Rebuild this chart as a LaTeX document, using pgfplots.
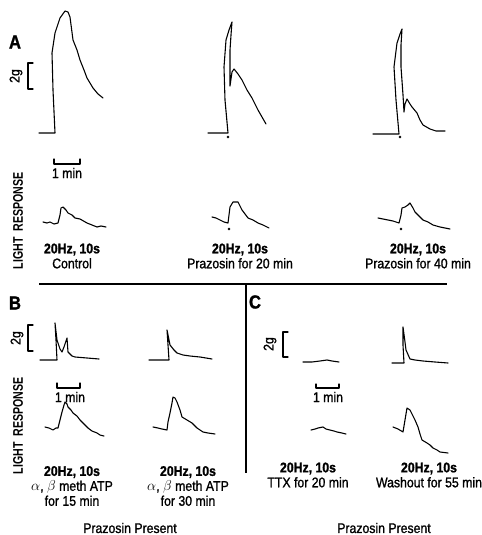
\documentclass[border=0pt]{standalone}
\usepackage{fontspec}
\setmainfont[FakeStretch=0.88,FakeBold=1.2]{Liberation Sans}
\newfontfamily\lrfont[FakeStretch=0.76]{Liberation Sans}
\usepackage{pgfplots}
\pgfplotsset{compat=1.18}
\pgfplotsset{tr/.style={black,mark=none,line width=1.1pt,line join=round,line cap=round}}
\newcommand{\lbl}{\fontsize{14}{15}\selectfont}
\begin{document}
\begin{tikzpicture}
\begin{axis}[width=482bp,height=535bp,scale only axis,xmin=0,xmax=482,ymin=0,ymax=535,
  y dir=reverse,hide axis,clip=false]
% ---- Panel A force traces
\addplot[tr] coordinates {(39,133)(55,133)(53,90)(52,53)(55,33)(60,18)(65,11)(68,12)(70,17)(73,40)(77,50)(80,60)(84,70)(87,78)(93,88)(98,94)(103,98)};
\addplot[tr] coordinates {(208,133)(228,133)(225,100)(224,67)(226,40)(229,30)(232,22)(231,35)(230,50)(230,86)(232,72)(234,69)(238,74)(242,80)(247,90)(252,98)(258,110)(262,117)(266,124)};
\addplot[tr] coordinates {(373,134)(399,134)(396,100)(394,67)(397,43)(400,34)(402,29)(401,45)(401,67)(403,95)(404,112)(405,104)(407,99)(410,104)(412,107)(417,113)(420,120)(423,125)(430,129)(436,131)(445,131)};
% stimulus dots
\addplot[only marks,mark=*,mark size=1.1pt,black] coordinates {(228,137)(400,137)(229,229)(401,229)};
% 2g bracket A
\addplot[tr,line width=1.3pt] coordinates {(33,63)(28,63)(28,89)(33,89)};
% 1 min bar A
\addplot[tr,line width=1.2pt] coordinates {(54,159)(54,164)(80,164)(80,159)};
% ---- Panel A light responses
\addplot[tr] coordinates {(43,222)(47,223)(50,222)(54,224)(58,223)(60,215)(61,208)(63,207)(66,210)(68,213)(72,215)(75,218)(80,219)(87,223)(92,225)(97,227)(101,226)(106,227)};
\addplot[tr] coordinates {(212,217)(216,218)(220,220)(224,222)(228,223)(229,215)(230,207)(233,202)(238,202)(240,206)(242,210)(245,214)(248,218)(253,220)(258,223)(263,225)(269,228)};
\addplot[tr] coordinates {(378,218)(383,219)(388,220)(393,221)(399,223)(401,215)(402,208)(405,207)(408,205)(410,203)(413,208)(415,212)(419,216)(423,220)(428,222)(433,225)(440,227)(445,228)(450,229)};
% dividers
\addplot[black,line width=2.6pt] coordinates {(39,284)(447,284)};
\addplot[black,line width=2.2pt] coordinates {(246,284)(246,473)};
% ---- Panel B
\addplot[tr] coordinates {(40,360)(57,360)(56,340)(55,323)(57,340)(60,349)(62,352)(64,347)(67,338)(68,352)(72,356)(75,357)(87,358)(99,359)};
\addplot[tr] coordinates {(149,360)(169,360)(168,345)(167,330)(170,345)(174,350)(177,353)(183,355)(190,356)(200,357)(212,359)};
\addplot[tr,line width=1.3pt] coordinates {(33,325)(28,325)(28,351)(33,351)};
\addplot[tr,line width=1.2pt] coordinates {(57,383)(57,388)(80,388)(80,383)};
\addplot[tr] coordinates {(45,427)(49,428)(53,430)(56,428)(58,428)(60,420)(62,412)(64,405)(65,402)(67,404)(68,407)(71,410)(73,413)(77,416)(80,420)(84,424)(88,428)(92,431)(97,433)(100,435)(104,436)};
\addplot[tr] coordinates {(153,427)(158,428)(162,429)(167,430)(168,422)(170,413)(172,403)(173,397)(175,398)(177,402)(180,410)(182,417)(187,420)(192,423)(197,428)(203,432)(208,433)(215,434)};
% ---- Panel C
\addplot[tr] coordinates {(303,362)(312,362)(320,361)(327,360)(332,361)(339,362)};
\addplot[tr] coordinates {(392,363)(404,363)(403,345)(403,327)(405,342)(406,350)(410,359)(415,360)(423,361)(435,362)(448,363)};
\addplot[tr,line width=1.3pt] coordinates {(288,332)(283,332)(283,357)(288,357)};
\addplot[tr,line width=1.2pt] coordinates {(316,384)(316,388)(339,388)(339,384)};
\addplot[tr] coordinates {(311,430)(315,429)(318,428)(323,427)(326,429)(330,430)(334,431)(337,432)(342,433)(346,434)};
\addplot[tr] coordinates {(393,427)(398,429)(403,432)(405,420)(407,408)(410,410)(413,416)(415,420)(418,427)(420,434)(422,440)(427,443)(430,445)(433,448)(437,450)(440,452)(448,453)};
% ---- Text
\node[font=\fontsize{19}{19}\bfseries] at (axis cs:15,42) {A};
\node[font=\fontsize{19}{19}\bfseries] at (axis cs:15,303) {B};
\node[font=\fontsize{19}{19}\bfseries] at (axis cs:255,302) {C};
\node[font=\lbl,rotate=90] at (axis cs:16,76) {2g};
\node[font=\lbl,rotate=90] at (axis cs:17,338) {2g};
\node[font=\lbl,rotate=90] at (axis cs:270,344) {2g};
\node[font=\lbl] at (axis cs:67,173) {1 min};
\node[font=\lbl] at (axis cs:70,397) {1 min};
\node[font=\lbl] at (axis cs:328,397) {1 min};
\node[font=\lrfont\fontsize{14}{14}\selectfont\bfseries,rotate=90] at (axis cs:18,221) {LIGHT\ \ RESPONSE};
\node[font=\lrfont\fontsize{14}{14}\selectfont\bfseries,rotate=90] at (axis cs:18,426) {LIGHT\ \ RESPONSE};
\node[font=\lbl,align=center] at (axis cs:72,256) {\textbf{20Hz, 10s}\\Control};
\node[font=\lbl,align=center] at (axis cs:240,256) {\textbf{20Hz, 10s}\\Prazosin for 20 min};
\node[font=\lbl,align=center] at (axis cs:418,256) {\textbf{20Hz, 10s}\\Prazosin for 40 min};
\node[font=\lbl,align=center] at (axis cs:72,486) {\textbf{20Hz, 10s}\\$\alpha$, $\beta$ meth ATP\\for 15 min};
\node[font=\lbl,align=center] at (axis cs:188,486) {\textbf{20Hz, 10s}\\$\alpha$, $\beta$ meth ATP\\for 30 min};
\node[font=\lbl,align=center] at (axis cs:308,475) {\textbf{20Hz, 10s}\\TTX for 20 min};
\node[font=\lbl,align=center] at (axis cs:429,475) {\textbf{20Hz, 10s}\\Washout for 55 min};
\node[font=\lbl] at (axis cs:130,528) {Prazosin Present};
\node[font=\lbl] at (axis cs:384,528) {Prazosin Present};
\end{axis}
\pgfresetboundingbox
\path (0,0) rectangle (482bp,535bp);
\end{tikzpicture}
\end{document}
